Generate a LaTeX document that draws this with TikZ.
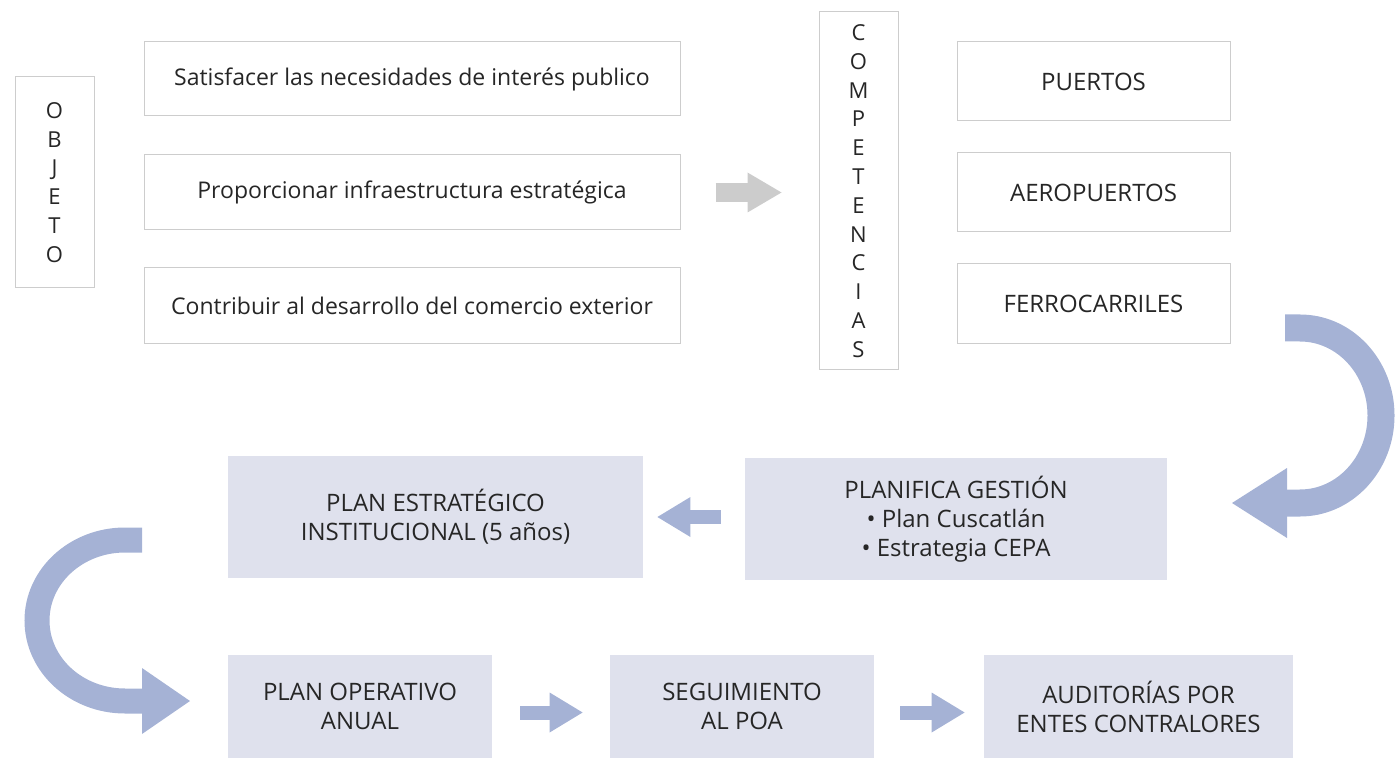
\documentclass[tikz,border=0pt]{standalone}
\usepackage{fontspec}
\setmainfont{Open Sans}
\usepackage{tikz}
\usetikzlibrary{calc}
\usetikzlibrary{arrows.meta}
\definecolor{boxfill}{HTML}{DFE1ED}
\definecolor{arrowblue}{HTML}{A5B2D5}
\definecolor{arrowgray}{HTML}{CCCCCC}
\definecolor{lineg}{HTML}{CDCDCD}
\definecolor{txt}{HTML}{262626}

\begin{document}
\begin{tikzpicture}[x=0.5pt,y=-0.5pt]
\tikzset{whitebox/.style={draw=lineg,line width=0.5pt,fill=white,inner sep=0pt,text=txt,font=\fontsize{11.5}{14}\selectfont}}
\tikzset{capsbox/.style={whitebox,font=\fontsize{12}{14}\selectfont}}
\tikzset{vbox/.style={whitebox,align=center,font=\fontsize{11}{14.4}\selectfont}}
\tikzset{bluebox/.style={fill=boxfill,inner sep=0pt,align=center,text=txt,font=\fontsize{12}{14.5}\selectfont}}
\tikzset{grayarrow/.style={draw=arrowgray,line width=9.5pt,-{Triangle[length=17pt,width=20pt,line width=0pt]}}}
\tikzset{bluearrow/.style={draw=arrowblue,line width=7pt,-{Triangle[length=16.5pt,width=20pt,line width=0pt]}}}
\tikzset{turnR/.style={draw=arrowblue,line width=13.5pt,-{Triangle[length=27.5pt,width=35pt,line width=0pt]}}}
\tikzset{turnL/.style={draw=arrowblue,line width=12.5pt,-{Triangle[length=24pt,width=33pt,line width=0pt]}}}
\useasboundingbox (0,0) rectangle (1400,758);

\node (obj) at (54.5,182.5) [vbox,minimum width=39.5pt,minimum height=105.5pt] {O\\B\\J\\E\\T\\O};
\node (sat) at (412,79) [whitebox,minimum width=268pt,minimum height=37pt] {Satisfacer las necesidades de interés publico};
\node (prop) at (412,192.5) [whitebox,minimum width=268pt,minimum height=37.5pt] {Proporcionar infraestructura estratégica};
\node (contrib) at (412,306) [whitebox,minimum width=268pt,minimum height=38pt] {Contribuir al desarrollo del comercio exterior};
\node (compet) at (858.5,191) [vbox,minimum width=39.5pt,minimum height=179pt] {C\\O\\M\\P\\E\\T\\E\\N\\C\\I\\A\\S};
\node (puertos) at (1093.5,81.5) [capsbox,minimum width=136.5pt,minimum height=39.5pt] {PUERTOS};
\node (aero) at (1093.5,192.5) [capsbox,minimum width=136.5pt,minimum height=39.5pt] {AEROPUERTOS};
\node (ferro) at (1093.5,304) [capsbox,minimum width=136.5pt,minimum height=40pt] {FERROCARRILES};

\node (pei) at (435.5,517) [bluebox,minimum width=207.5pt,minimum height=61pt] {PLAN ESTRATÉGICO\\INSTITUCIONAL (5 años)};
\node (planif) at (956,519) [bluebox,minimum width=211pt,minimum height=61pt] {PLANIFICA GESTIÓN\\\textbullet\ Plan Cuscatlán\\\textbullet\ Estrategia CEPA};
\node (poa) at (360,706.5) [bluebox,minimum width=132pt,minimum height=51.5pt] {PLAN OPERATIVO\\ANUAL};
\node (seg) at (742,706.5) [bluebox,minimum width=132pt,minimum height=51.5pt] {SEGUIMIENTO\\AL POA};
\node (aud) at (1138.5,706.5) [bluebox,minimum width=154.5pt,minimum height=51.5pt] {AUDITORÍAS POR\\ENTES CONTRALORES};

\coordinate (r1) at (1285,328);
\coordinate (r2) at (1232,503);
\coordinate (l1) at (142,540);
\coordinate (l2) at (190,701);

\path
($(prop.east)+(35,0)$) edge [grayarrow] ($(compet.west |- prop.east)+(-37,0)$)
($(planif.west |- pei.east)+(-24,0)$) edge [bluearrow] ($(pei.east)+(14,0)$)
($(poa.east)+(28,6)$) edge [bluearrow] ($(seg.west)+(-27,6)$)
($(seg.east)+(26,6)$) edge [bluearrow] ($(aud.west)+(-19,6)$);

\draw[turnR] (r1) -- ++(15,0) arc[start angle=-90,end angle=90,x radius=81,y radius=87.5] -- (r2);
\draw[turnL] (l1) -- ++(-17,0) arc[start angle=-90,end angle=-270,x radius=88,y radius=80.5] -- (l2);
\end{tikzpicture}
\end{document}
